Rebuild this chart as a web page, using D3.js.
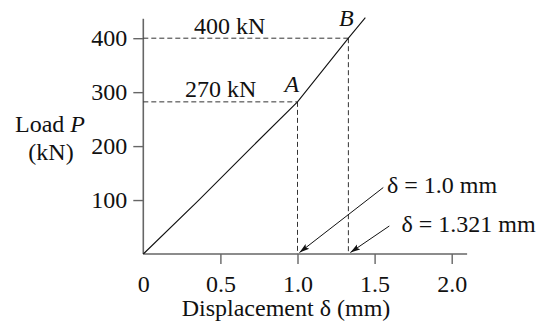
<!DOCTYPE html>
<html>
<head>
<meta charset="UTF-8">
<script src="https://cdn.jsdelivr.net/npm/d3@7"></script>
<style>
  body { margin: 0; background: #fff; }
  text { font-family: "Liberation Serif", "DejaVu Serif", serif; fill: #111; }
</style>
</head>
<body>
<div id="chart"></div>
<script>
    // load-displacement curve
    var dispMM = [0, 0.36, 0.71, 1.0, 1.33, 1.44];
    var loadKN = [0, 100, 200, 282, 400, 438];

    // points A and B
    var pointNames = ["A", "B"];
    var pointDisp = [1.0, 1.33];
    var pointLoad = [282, 400];
    var loadLabels = ["270 kN", "400 kN"];
    var dispLabels = ["\u03b4 = 1.0 mm", "\u03b4 = 1.321 mm"];

    var xTicks = [0, 0.5, 1.0, 1.5, 2.0];
    var xTickLabels = ["0", "0.5", "1.0", "1.5", "2.0"];
    var yTicks = [100, 200, 300, 400];

    var width = 545, height = 324;
    var svg = d3.select("#chart").append("svg").attr("width", width).attr("height", height);

    var x = d3.scaleLinear().domain([0, 2]).range([143.3, 451.7]);
    var y = d3.scaleLinear().domain([0, 400]).range([254, 38.2]);
    var fs = 24;

    // axes
    var axisColor = "#666";
    var yAxis = svg.append("g").attr("transform", "translate(" + x(0) + ",0)")
        .call(d3.axisLeft(y).tickValues(yTicks).tickSize(10).tickPadding(6).tickFormat(d3.format("d")));
    yAxis.select(".domain").remove();
    svg.append("line").attr("x1", x(0)).attr("x2", x(0)).attr("y1", y(0)).attr("y2", y(436))
        .attr("stroke", axisColor).attr("stroke-width", 1.6);

    var xAxis = svg.append("g").attr("transform", "translate(0," + y(0) + ")")
        .call(d3.axisBottom(x).tickValues(xTicks).tickSize(10).tickPadding(11)
            .tickFormat(function(d, i) { return xTickLabels[i]; }));
    xAxis.select(".domain").remove();
    xAxis.selectAll(".tick").filter(function(d) { return d === 0; }).select("line").remove();
    svg.append("line").attr("x1", x(0)).attr("x2", x(2.1)).attr("y1", y(0)).attr("y2", y(0))
        .attr("stroke", axisColor).attr("stroke-width", 1.6);

    svg.selectAll(".tick line").attr("stroke", axisColor).attr("stroke-width", 1.4);
    svg.selectAll(".tick text").attr("font-size", fs + "px").attr("fill", "#111")
        .attr("font-family", "Liberation Serif");

    // axis titles
    var yt = svg.append("text").attr("x", 50).attr("y", 132).attr("text-anchor", "middle").attr("font-size", fs + "px");
    yt.append("tspan").text("Load ");
    yt.append("tspan").attr("font-style", "italic").text("P");
    svg.append("text").attr("x", 51).attr("y", 160).attr("text-anchor", "middle").attr("font-size", fs + "px").text("(kN)");
    svg.append("text").attr("x", 286).attr("y", 316).attr("text-anchor", "middle").attr("font-size", fs + "px")
        .text("Displacement \u03b4 (mm)");

    // dashed guides
    var dash = "5,3";
    pointNames.forEach(function(name, i) {
        svg.append("line").attr("x1", x(0)).attr("x2", x(pointDisp[i])).attr("y1", y(pointLoad[i])).attr("y2", y(pointLoad[i]))
            .attr("stroke", "#333").attr("stroke-width", 1).attr("stroke-dasharray", dash);
        svg.append("line").attr("x1", x(pointDisp[i])).attr("x2", x(pointDisp[i])).attr("y1", y(pointLoad[i])).attr("y2", y(0))
            .attr("stroke", "#333").attr("stroke-width", 1).attr("stroke-dasharray", dash);
    });

    // curve
    var pts = dispMM.map(function(d, i) { return [d, loadKN[i]]; });
    svg.append("path").datum(pts)
        .attr("d", d3.line().x(function(d) { return x(d[0]); }).y(function(d) { return y(d[1]); }))
        .attr("fill", "none").attr("stroke", "#111").attr("stroke-width", 1.1);

    // point letters
    var letterPos = [[284.5, 92], [339, 25.5]];
    pointNames.forEach(function(name, i) {
        svg.append("text").attr("x", letterPos[i][0]).attr("y", letterPos[i][1])
            .attr("font-size", fs + "px").attr("font-style", "italic").text(name);
    });

    // load labels
    var loadLabelPos = [[185, 96.5], [194, 33.5]];
    loadLabels.forEach(function(t, i) {
        svg.append("text").attr("x", loadLabelPos[i][0]).attr("y", loadLabelPos[i][1]).attr("font-size", fs + "px").text(t);
    });

    // displacement labels with arrows
    svg.append("defs").append("marker").attr("id", "arr").attr("viewBox", "0 -4 10 8")
        .attr("refX", 10).attr("refY", 0).attr("markerWidth", 10).attr("markerHeight", 8)
        .attr("markerUnits", "userSpaceOnUse").attr("orient", "auto")
        .append("path").attr("d", "M0,-3L10,0L0,3L2,0Z").attr("fill", "#111");

    var dispLabelPos = [[387, 193], [401.5, 232]];
    var arrowStart = [[383.3, 187.5], [389.3, 226]];
    dispLabels.forEach(function(t, i) {
        svg.append("text").attr("x", dispLabelPos[i][0]).attr("y", dispLabelPos[i][1]).attr("font-size", fs + "px").text(t);
        svg.append("line").attr("x1", arrowStart[i][0]).attr("y1", arrowStart[i][1])
            .attr("x2", x(pointDisp[i]) + 2).attr("y2", y(0) - 1.5)
            .attr("stroke", "#111").attr("stroke-width", 1).attr("marker-end", "url(#arr)");
    });
</script>
</body>
</html>
